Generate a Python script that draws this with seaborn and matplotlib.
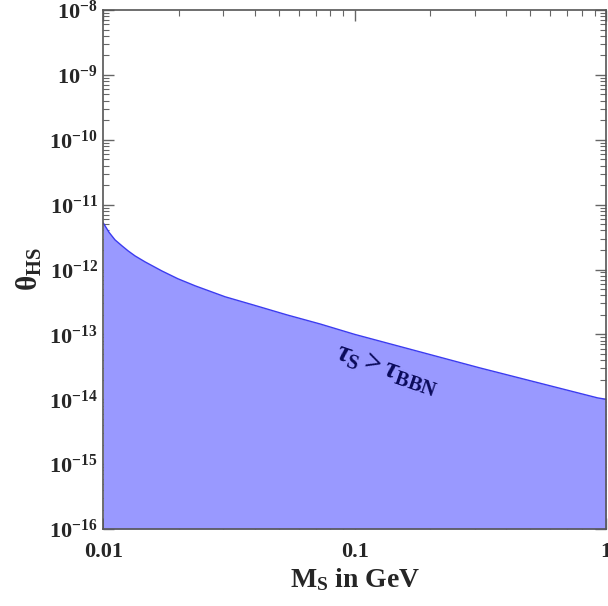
import matplotlib
matplotlib.use('Agg')

import matplotlib.pyplot as plt
import matplotlib.ticker as mticker
import numpy as np
import pandas as pd
import seaborn as sns

# curve (BBN lifetime bound)
mass_gev = [0.01, 0.01054, 0.01113, 0.01187, 0.01254, 0.01337, 0.01466, 0.0171,
            0.0198, 0.0232, 0.0305, 0.0394, 0.0537, 0.0727, 0.1, 0.314, 0.925, 1.0]
theta_hs = [5.2e-12, 3.73e-12, 2.86e-12, 2.31e-12, 1.94e-12, 1.62e-12, 1.31e-12, 9.5e-13,
            7.2e-13, 5.6e-13, 3.8e-13, 2.85e-13, 2.0e-13, 1.45e-13, 1.0e-13, 3.05e-14,
            1.05e-14, 1.0e-14]

x_ticks = [0.01, 0.1, 1]
x_tick_labels = ["0.01", "0.1", "1"]
y_lim = (1e-16, 1e-8)
x_lim = (0.01, 1)

sns.set_theme(style="ticks")
plt.rcParams['font.family'] = ['Liberation Serif', 'DejaVu Serif']
plt.rcParams['font.weight'] = 'bold'
plt.rcParams['mathtext.fontset'] = 'custom'
plt.rcParams['mathtext.rm'] = 'Liberation Serif:bold'
plt.rcParams['mathtext.it'] = 'Liberation Serif:italic:bold'
plt.rcParams['mathtext.bf'] = 'Liberation Serif:bold'

df = pd.DataFrame({"M": mass_gev, "theta": theta_hs})

fig = plt.figure(figsize=(6.08, 6.06), dpi=100)
ax = fig.add_axes([0.170, 0.127, 0.827, 0.8565])

ax.fill_between(df["M"], y_lim[0], df["theta"], color="#9999ff", linewidth=0, zorder=1)
sns.lineplot(data=df, x="M", y="theta", ax=ax, color="#3b3bf0", linewidth=1.0,
             sort=False, zorder=2)

ax.set_xscale("log")
ax.set_yscale("log")
ax.set_xlim(*x_lim)
ax.set_ylim(*y_lim)

ax.xaxis.set_major_locator(mticker.FixedLocator(x_ticks))
ax.xaxis.set_major_formatter(mticker.FixedFormatter(x_tick_labels))
ax.xaxis.set_minor_locator(mticker.LogLocator(base=10, subs=np.arange(2, 10), numticks=20))
ax.yaxis.set_major_locator(mticker.LogLocator(base=10, numticks=20))
ax.yaxis.set_minor_locator(mticker.LogLocator(base=10, subs=np.arange(2, 10), numticks=40))
ax.yaxis.set_minor_formatter(mticker.NullFormatter())

for side in ["top", "right", "bottom", "left"]:
    ax.spines[side].set_visible(True)
    ax.spines[side].set_color("#555555")
    ax.spines[side].set_linewidth(1.2)

ax.tick_params(which="both", direction="in", top=True, right=True, color="#666666",
               labelsize=16)
ax.tick_params(axis="x", which="major", pad=9)
ax.tick_params(axis="y", which="major", pad=4)
ax.tick_params(which="major", length=8, width=1.0)
ax.tick_params(which="minor", length=4, width=0.8)
for lab in ax.get_xticklabels() + ax.get_yticklabels():
    lab.set_fontweight("bold")

ax.set_xlabel(r"$\mathrm{M_S}$ in GeV", fontsize=20, fontweight="bold")
ax.set_ylabel(r"$\mathrm{\theta_{HS}}$", fontsize=21, fontweight="bold")
ax.xaxis.set_label_coords(0.5, -0.072)
ax.yaxis.set_label_coords(-0.118, 0.5)

ax.text(0.135, 2.9e-14, r"$\tau_{\mathrm{S}} > \tau_{\mathrm{BBN}}$", color="#0a0a5a",
        fontsize=21, rotation=-19, ha="center", va="center", zorder=3)

fig.savefig("out.png", dpi=100)
plt.close("all")
